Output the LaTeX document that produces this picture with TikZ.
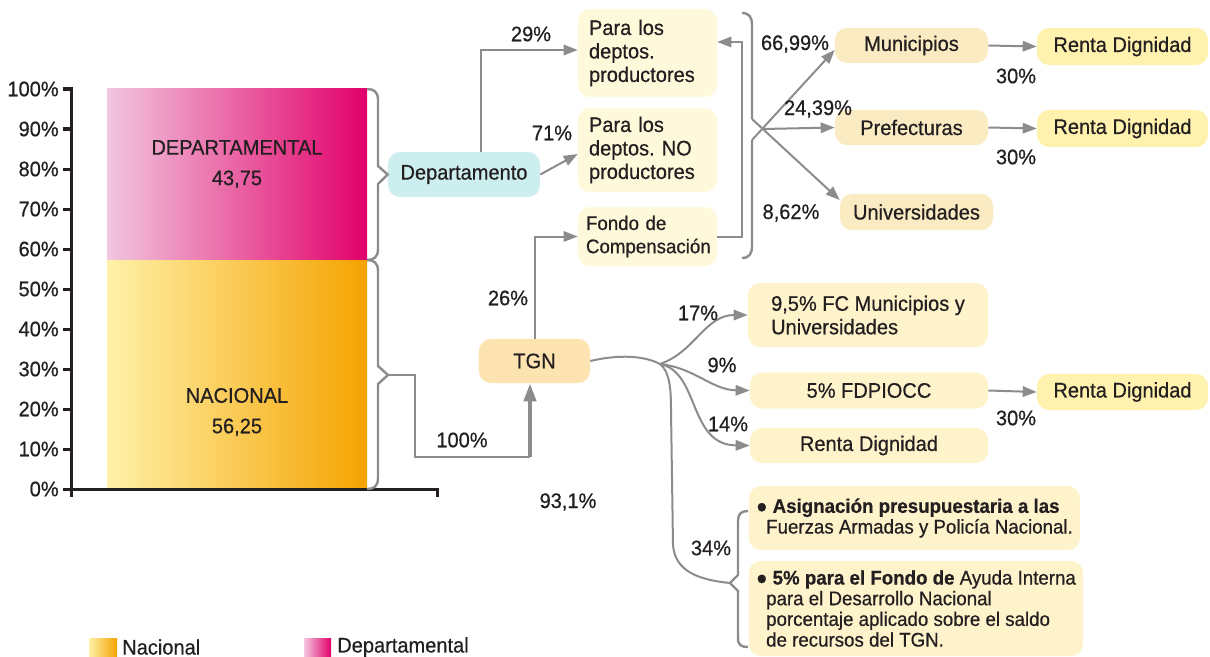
\documentclass[tikz,border=0pt]{standalone}
\usepackage{fontspec}
\setmainfont{Liberation Sans}[FakeStretch=0.95, FakeBold=0.6]
\usetikzlibrary{arrows.meta}
\definecolor{texto}{HTML}{231F20}
\definecolor{gris}{HTML}{8C8C8C}
\definecolor{celeste}{HTML}{CDEEEF}
\definecolor{crema}{HTML}{FFF9DB}
\definecolor{beige}{HTML}{FAEBC2}
\definecolor{amarillo}{HTML}{FFF2AE}
\definecolor{durazno}{HTML}{FDE3B0}
\definecolor{claro}{HTML}{FFF3CC}
\definecolor{rosa}{HTML}{F2C6DE}
\definecolor{magenta}{HTML}{E2006A}
\definecolor{paja}{HTML}{FFF1A8}
\definecolor{naranja}{HTML}{F5A300}
\tikzset{
    caja/.style={rounded corners=0.3cm, inner sep=0pt, align=center},
    eje/.style={line width=0.075cm, color=texto},
    conector/.style={line width=0.05cm, color=gris},
    flecha/.style={conector, -{Triangle[length=0.35cm,width=0.26cm]}},
    gruesa/.style={conector, line width=0.1cm, -{Triangle[length=0.45cm,width=0.3cm]}},
    llave/.style={conector, line width=0.06cm},
    porc/.style={inner sep=0pt},
}
\newcommand\Chico{\fontsize{14}{14.7}\selectfont}
\frenchspacing

\begin{document}
\begin{tikzpicture}[x=0.025cm, y=-0.025cm, font=\fontsize{15}{16.7}\selectfont, text=texto]
    \useasboundingbox (0,0) rectangle (1210,657);
    \clip (0,0) rectangle (1210,657);
    % barras
    \shade[left color=rosa, right color=magenta] (107,89) rectangle (367,260);
    \shade[left color=paja, right color=naranja] (107,260) rectangle (367,489);
    \node[align=center] (tdep) at (237,164) {DEPARTAMENTAL\\[5pt]43,75};
    \node[align=center] (tnac) at (237,412) {NACIONAL\\[5pt]56,25};
    % ejes
    \draw[eje] (71,87) -- (71,497);
    \draw[eje] (71,489) -- (437,489) -- (437,497);
    \foreach \v in {0,10,...,100}
        \draw[eje] (63,489-4*\v) -- (71,489-4*\v) node[pos=0, left, inner sep=2pt] {\v\%};
    % llaves de las barras
    \node[caja, fill=celeste, minimum width=3.8cm, minimum height=1.125cm] (dep) at (464,174.5) {Departamento};
    \draw[llave] (367,89) .. controls (374,89) and (378,92) .. (378,100) -- (378,166) -- (dep.west)
        -- (378,184) -- (378,249) .. controls (378,257) and (374,260) .. (367,260);
    \coordinate (nac) at (388,375);
    \draw[llave] (367,260) .. controls (374,260) and (378,263) .. (378,271) -- (378,366) -- (nac)
        -- (378,384) -- (378,478) .. controls (378,486) and (374,489) .. (367,489);
    % departamento
    \node[caja, fill=crema, minimum width=3.475cm, minimum height=2.2cm, inner xsep=0.275cm,
        text width=2.925cm, align=left] (prod) at (647.5,53) {Para los\\deptos.\\productores};
    \node[caja, fill=crema, minimum width=3.475cm, minimum height=2.1cm, inner xsep=0.275cm,
        text width=2.925cm, align=left] (noprod) at (647.5,150) {Para los\\deptos. NO\\productores};
    \node[caja, fill=crema, minimum width=3.475cm, minimum height=1.475cm, inner xsep=0.2cm,
        text width=3.075cm, align=left, font=\fontsize{14}{16.5}\selectfont] (fondo) at (647.5,236.5) {Fondo de\\Compensación};
    \draw[flecha] ([xshift=0.425cm]dep.north) |- ([yshift=0.075cm]prod.west);
    \draw[flecha] (dep.east) -- ([yshift=-0.1cm]noprod.west);
    \node[porc] (p29) at (531,34) {29\%};
    \node[porc] (p71) at (552,133) {71\%};
    \draw[flecha] (fondo.east) -- ++(25,0) |- ([yshift=0.275cm]prod.east);
    % reparto
    \node[caja, fill=beige, minimum width=3.825cm, minimum height=0.875cm] (muni) at (911.5,45.5) {Municipios};
    \node[caja, fill=beige, minimum width=3.825cm, minimum height=0.875cm] (pref) at (911.5,127.5) {Prefecturas};
    \node[caja, fill=beige, minimum width=3.825cm, minimum height=0.9cm] (univ) at (916.5,212) {Universidades};
    \node[caja, fill=amarillo, minimum width=4.275cm, minimum height=0.925cm] (rd1) at (1122.5,46.5) {Renta Dignidad};
    \node[caja, fill=amarillo, minimum width=4.275cm, minimum height=0.925cm] (rd2) at (1122.5,128.5) {Renta Dignidad};
    \draw[llave] (742,13) .. controls (749,13) and (752,17) .. (752,25) -- (752,119);
    \draw[flecha] (752,119) -- ([yshift=0.3cm]univ.west);
    \draw[llave] (742,258) .. controls (749,258) and (752,254) .. (752,246) -- (752,140);
    \draw[flecha] (752,140) -- ([yshift=-0.11cm]muni.west);
    \coordinate (cruce) at (763,129);
    \draw[flecha] (cruce) -- (pref.west);
    \draw[flecha] (muni.east) -- (rd1.west);
    \draw[flecha] (pref.east) -- (rd2.west);
    \node[porc] (p6699) at (795,44) {66,99\%};
    \node[porc] (p2439) at (818,109) {24,39\%};
    \node[porc] (p862) at (791,213) {8,62\%};
    \node[porc] (p30a) at (1016,76) {30\%};
    \node[porc] (p30b) at (1016,157) {30\%};
    % TGN
    \node[caja, fill=durazno, minimum width=2.775cm, minimum height=1.1cm] (tgn) at (534.5,361) {TGN};
    \coordinate (codo) at (530,457);
    \draw[conector] (nac) -| (415,457) -- (codo);
    \draw[gruesa] (codo) -- (codo |- tgn.south);
    \draw[flecha] (tgn.north) |- (fondo.west);
    \node[porc] (p26) at (508,298) {26\%};
    \node[porc] (p100) at (462,440) {100\%};
    \node[porc] (p931) at (568,502) {93,1\%};
    \node[caja, fill=claro, minimum width=6cm, minimum height=1.6cm, align=left] (fc) at (868,315) {9,5\% FC Municipios y\\Universidades};
    \node[caja, fill=claro, minimum width=5.95cm, minimum height=0.9cm] (fdp) at (869,390.5) {5\% FDPIOCC};
    \node[caja, fill=claro, minimum width=5.95cm, minimum height=0.875cm] (rd4) at (869,445.5) {Renta Dignidad};
    \node[caja, fill=amarillo, minimum width=4.275cm, minimum height=0.9cm] (rd3) at (1122.5,392) {Renta Dignidad};
    \coordinate (rama) at (660,364);
    \draw[conector] (tgn.east) .. controls (620,354) and (645,356) .. (rama);
    \draw[flecha] (rama) .. controls (695,352) and (705,315) .. (fc.west);
    \draw[flecha] (rama) .. controls (695,368) and (712,390) .. (fdp.west);
    \draw[flecha] (rama) .. controls (700,372) and (688,445) .. (rd4.west);
    \draw[flecha] (fdp.east) -- (rd3.west);
    \node[porc] (p17) at (698,313) {17\%};
    \node[porc] (p9) at (722,365) {9\%};
    \node[porc] (p14) at (728,424) {14\%};
    \node[porc] (p30c) at (1016,418) {30\%};
    % fuerzas armadas y fondo de ayuda
    \node[caja, fill=claro, minimum width=8.275cm, minimum height=1.6cm, align=left, font=\Chico] (asig) at (914.5,518)
        {● \textbf{Asignación presupuestaria a las}\\\hspace*{0.25cm}Fuerzas Armadas y Policía Nacional.};
    \node[caja, fill=claro, minimum width=8.35cm, minimum height=2.375cm, align=left, font=\Chico] (ayuda) at (916,608.5)
        {● \textbf{5\% para el Fondo de} Ayuda Interna\\\hspace*{0.25cm}para el Desarrollo Nacional\\
        \hspace*{0.25cm}porcentaje aplicado sobre el saldo\\\hspace*{0.25cm}de recursos del TGN.};
    \coordinate (punta) at (730,583);
    \draw[conector] (rama) .. controls (670,372) and (671,390) .. (671,410) -- (673,545)
        .. controls (675,572) and (700,580) .. (punta);
    \draw[llave] (748,511) .. controls (741,511) and (738,514) .. (738,521) -- (738,575) -- (punta)
        -- (738,591) -- (738,638) .. controls (738,645) and (741,647) .. (748,647);
    \node[porc] (p34) at (711,548) {34\%};
    % leyenda
    \shade[left color=paja, right color=naranja] (89,638) rectangle (117,657);
    \node[anchor=west, inner sep=0pt] (lnac) at (122,647) {Nacional};
    \shade[left color=rosa, right color=magenta] (304,638) rectangle (331,657);
    \node[anchor=west, inner sep=0pt] (ldep) at (337,647) {Departamental};
\end{tikzpicture}
\end{document}
